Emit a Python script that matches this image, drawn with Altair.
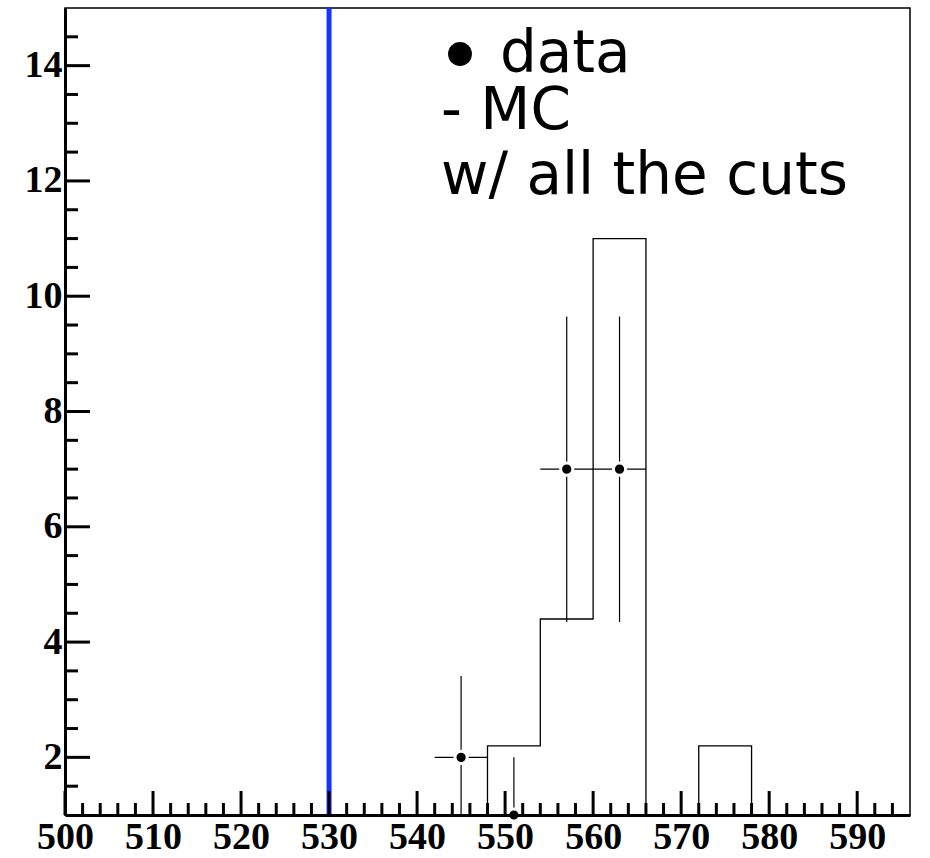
import altair as alt
import pandas as pd

# ---- data ----
bin_lo = [500, 506, 512, 518, 524, 530, 536, 542, 548, 554, 560, 566, 572, 578, 584, 590]
bin_hi_last = 596
mc_counts = [0, 0, 0, 0, 0, 0, 0, 0, 2.2, 4.4, 11.0, 0, 2.2, 0, 0, 0]

data_x = [545, 551, 557, 563]
data_y = [2, 1, 7, 7]
data_ylo = [0.59, 0.0, 4.35, 4.35]
data_yhi = [3.41, 2.0, 9.65, 9.65]
data_xlo = [542, 548, 554, 560]
data_xhi = [548, 554, 560, 566]

cut_x = [530]

x_major = [500, 510, 520, 530, 540, 550, 560, 570, 580, 590]
x_minor = [v for v in range(502, 596, 2) if v % 10 != 0]
y_major = [2, 4, 6, 8, 10, 12, 14]
y_minor = [v / 2 for v in range(3, 30) if v % 4 != 0]

legend_lines = ["data", "- MC", "w/ all the cuts"]

# ---- geometry / style ----
W, H = 845, 807
XDOM = [500, 596]
YDOM = [1, 15]
label_font = "Liberation Serif"

xs = alt.Scale(domain=XDOM, nice=False, zero=False)
ys = alt.Scale(domain=YDOM, nice=False, zero=False)

common_axis = dict(ticks=False, grid=False, title=None, domainWidth=3, domainColor="black",
                   labelFont=label_font, labelFontWeight="bold", labelFontSize=38,
                   labelColor="black", labelFlush=False, labelOverlap=False, format="d",
                   zindex=1)
xaxis = alt.Axis(values=x_major, labelPadding=3, **common_axis)
yaxis = alt.Axis(values=y_major, labelPadding=3, **common_axis)

X = lambda f="x": alt.X(f"{f}:Q", scale=xs, axis=xaxis)
Y = lambda f="y": alt.Y(f"{f}:Q", scale=ys, axis=yaxis)

# histogram (step)
hx = bin_lo + [bin_hi_last]
hy = mc_counts + [mc_counts[-1]]
hist_df = pd.DataFrame({"x": hx, "y": hy})
hist = alt.Chart(hist_df).mark_line(interpolate="step-after", color="black",
                                    strokeWidth=1.3, clip=True).encode(x=X(), y=Y())

pts_df = pd.DataFrame({"x": data_x, "y": data_y, "ylo": data_ylo, "yhi": data_yhi,
                       "xlo": data_xlo, "xhi": data_xhi})
vbar = alt.Chart(pts_df).mark_rule(color="black", strokeWidth=1.2, clip=True).encode(
    x=X(), y=Y("ylo"), y2="yhi:Q")
hbar = alt.Chart(pts_df).mark_rule(color="black", strokeWidth=1.2, clip=True).encode(
    x=X("xlo"), x2="xhi:Q", y=Y())
pts = alt.Chart(pts_df).mark_circle(color="black", opacity=1, size=150,
                                    stroke="white", strokeWidth=3).encode(x=X(), y=Y())

cut = alt.Chart(pd.DataFrame({"x": cut_x})).mark_rule(color="#1433ff", strokeWidth=5).encode(
    x=X(), y=alt.value(-1), y2=alt.value(H))

ymaj = alt.Chart(pd.DataFrame({"y": y_major})).mark_rule(color="black", strokeWidth=3).encode(
    y=Y(), x=alt.value(0), x2=alt.value(25))
ymin = alt.Chart(pd.DataFrame({"y": y_minor})).mark_rule(color="black", strokeWidth=3).encode(
    y=Y(), x=alt.value(0), x2=alt.value(13))
xmaj = alt.Chart(pd.DataFrame({"x": x_major})).mark_rule(color="black", strokeWidth=3).encode(
    x=X(), y=alt.value(H), y2=alt.value(H - 24))
xmin = alt.Chart(pd.DataFrame({"x": x_minor})).mark_rule(color="black", strokeWidth=3).encode(
    x=X(), y=alt.value(H), y2=alt.value(H - 12))

# legend-like annotation
leg_font = dict(font="DejaVu Sans", fontSize=58, color="black", align="left", baseline="alphabetic")
t1 = alt.Chart(pd.DataFrame({"t": [legend_lines[0]]})).mark_text(**leg_font).encode(
    text="t:N", x=alt.value(435), y=alt.value(64))
t2 = alt.Chart(pd.DataFrame({"t": [legend_lines[1]]})).mark_text(**leg_font).encode(
    text="t:N", x=alt.value(376), y=alt.value(121))
t3 = alt.Chart(pd.DataFrame({"t": [legend_lines[2]]})).mark_text(**leg_font).encode(
    text="t:N", x=alt.value(376), y=alt.value(186))
bullet = alt.Chart(pd.DataFrame({"t": ["data"]})).mark_circle(color="black", opacity=1, size=570).encode(
    x=alt.value(395), y=alt.value(46))

chart = alt.layer(hist, cut, vbar, hbar, pts, ymaj, ymin, xmaj, xmin, t1, t2, t3, bullet).properties(
    width=W, height=H,
    autosize=alt.AutoSizeParams(type="none"),
    padding={"left": 65, "top": 8, "right": 20, "bottom": 43},
    background="white",
).configure_view(stroke="black", strokeWidth=1.5)

chart.save("out.html", embed_options={"renderer": "svg", "actions": False})
